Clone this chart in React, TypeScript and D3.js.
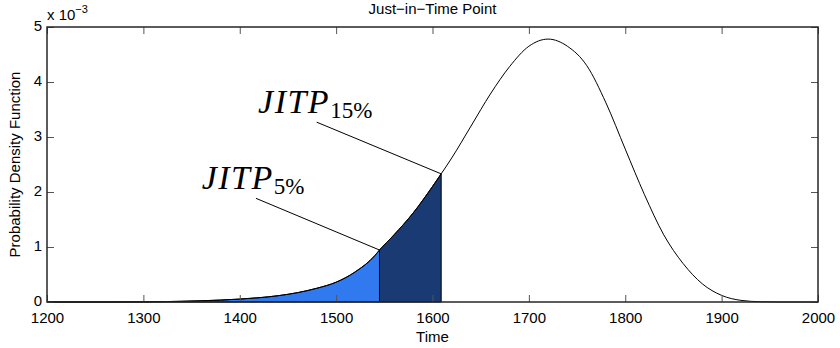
import { useRef, useEffect } from "react";
import { select, scaleLinear, line, area, curveMonotoneX, axisBottom, axisTop, axisLeft, axisRight, format } from "d3";

// time axis and the density curve (values in units of 1e-3)
const times = [1200, 1250, 1280, 1300, 1320, 1340, 1360, 1380, 1400, 1420, 1440, 1460, 1480, 1500, 1520, 1540, 1545, 1560, 1580, 1600, 1609, 1620, 1640, 1660, 1680, 1700, 1720, 1740, 1760, 1780, 1800, 1820, 1840, 1860, 1880, 1900, 1920, 1940, 1960, 2000];
const density = [0, 0, 0.001, 0.003, 0.007, 0.013, 0.022, 0.035, 0.053, 0.078, 0.115, 0.17, 0.25, 0.36, 0.55, 0.84, 0.945, 1.22, 1.62, 2.1, 2.33, 2.62, 3.2, 3.78, 4.28, 4.65, 4.78, 4.65, 4.3, 3.62, 2.78, 1.95, 1.22, 0.7, 0.33, 0.12, 0.03, 0.005, 0, 0];

const xTicks = [1200, 1300, 1400, 1500, 1600, 1700, 1800, 1900, 2000];
const yTicks = [0, 1, 2, 3, 4, 5];

const jitp5 = 1545;
const jitp15 = 1609;

// label anchors in data units
const labels = [
  { sub: "5%", at: jitp5, tx: 1360.5, ty: 2.06, lx: 1416.8, ly: 1.885 },
  { sub: "15%", at: jitp15, tx: 1419, ty: 3.44, lx: 1479.8, ly: 3.27 },
];

export default function App() {
  const svgRef = useRef(null);

  useEffect(() => {
    const svg = select(svgRef.current);
    svg.selectAll("*").remove();

    const x = scaleLinear().domain([1200, 2000]).range([47, 818]);
    const y = scaleLinear().domain([0, 5]).range([302, 27]);
    const pts = times.map((t, i) => [t, density[i]]);
    const valueAt = (t) => density[times.indexOf(t)];

    const areaGen = area()
      .x((d) => x(d[0]))
      .y0(y(0))
      .y1((d) => y(d[1]))
      .curve(curveMonotoneX);
    const lineGen = line()
      .x((d) => x(d[0]))
      .y((d) => y(d[1]))
      .curve(curveMonotoneX);

    svg.append("path")
      .attr("d", areaGen(pts.filter((d) => d[0] <= jitp5)))
      .attr("fill", "#3079ee")
      .attr("stroke", "#000")
      .attr("stroke-width", 1);
    svg.append("path")
      .attr("d", areaGen(pts.filter((d) => d[0] >= jitp5 && d[0] <= jitp15)))
      .attr("fill", "#193a72")
      .attr("stroke", "#000")
      .attr("stroke-width", 1);

    svg.append("path")
      .attr("d", lineGen(pts))
      .attr("fill", "none")
      .attr("stroke", "#000")
      .attr("stroke-width", 1);

    // axes, MATLAB style: ticks inside on all four sides
    const font = "'Liberation Sans', Arial, sans-serif";
    const styleAxis = (g) => {
      g.select(".domain").remove();
      g.selectAll(".tick line").attr("stroke", "#555").attr("stroke-width", 1);
      g.selectAll(".tick text").attr("fill", "#000").attr("font-size", 15).attr("font-family", font);
    };
    svg.append("g").attr("transform", "translate(0,302)")
      .call(axisBottom(x).tickValues(xTicks).tickFormat(format("d")).tickSizeInner(-7).tickSizeOuter(0).tickPadding(10))
      .call(styleAxis);
    svg.append("g").attr("transform", "translate(0,27)")
      .call(axisTop(x).tickValues(xTicks).tickSizeInner(-7).tickSizeOuter(0).tickFormat(() => ""))
      .call(styleAxis);
    svg.append("g").attr("transform", "translate(47,0)")
      .call(axisLeft(y).tickValues(yTicks).tickFormat(format("d")).tickSizeInner(-7).tickSizeOuter(0).tickPadding(5))
      .call(styleAxis)
      .call((g) => g.selectAll(".tick text").attr("dy", "0.22em"));
    svg.append("g").attr("transform", "translate(818,0)")
      .call(axisRight(y).tickValues(yTicks).tickSizeInner(-7).tickSizeOuter(0).tickFormat(() => ""))
      .call(styleAxis);

    svg.append("rect")
      .attr("x", x(1200)).attr("y", y(5))
      .attr("width", x(2000) - x(1200)).attr("height", y(0) - y(5))
      .attr("fill", "none").attr("stroke", "#262626").attr("stroke-width", 1.5);

    // annotations
    labels.forEach((l) => {
      svg.append("line")
        .attr("x1", x(l.lx)).attr("y1", y(l.ly))
        .attr("x2", x(l.at)).attr("y2", y(valueAt(l.at)))
        .attr("stroke", "#000").attr("stroke-width", 1);
      const t = svg.append("text")
        .attr("x", x(l.tx)).attr("y", y(l.ty))
        .attr("font-family", "'Liberation Serif', 'Times New Roman', serif")
        .attr("font-style", "italic")
        .attr("font-size", 34)
        .attr("letter-spacing", 1.5)
        .attr("fill", "#000")
        .text("JITP");
      t.append("tspan")
        .attr("font-style", "normal")
        .attr("font-size", 23)
        .attr("letter-spacing", 0)
        .attr("dy", 5)
        .text(l.sub);
    });

    // titles
    svg.append("text")
      .attr("x", (x(1200) + x(2000)) / 2).attr("y", 14)
      .attr("text-anchor", "middle")
      .attr("font-family", font).attr("font-size", 15)
      .text("Just\u2212in\u2212Time Point");
    svg.append("text")
      .attr("x", (x(1200) + x(2000)) / 2).attr("y", 342)
      .attr("text-anchor", "middle")
      .attr("font-family", font).attr("font-size", 15)
      .text("Time");
    svg.append("text")
      .attr("transform", `translate(20,${(y(0) + y(5)) / 2}) rotate(-90)`)
      .attr("text-anchor", "middle")
      .attr("font-family", font).attr("font-size", 15)
      .text("Probability Density Function");
    const mult = svg.append("text")
      .attr("x", 47).attr("y", 20)
      .attr("font-family", font).attr("font-size", 15)
      .text("x 10");
    mult.append("tspan").attr("font-size", 11).attr("dy", -7).text("\u22123");
  }, []);

  return (
    <svg ref={svgRef} width={840} height={348}
      style={{ position: "absolute", left: 0, top: 0, background: "#fff" }} />
  );
}
